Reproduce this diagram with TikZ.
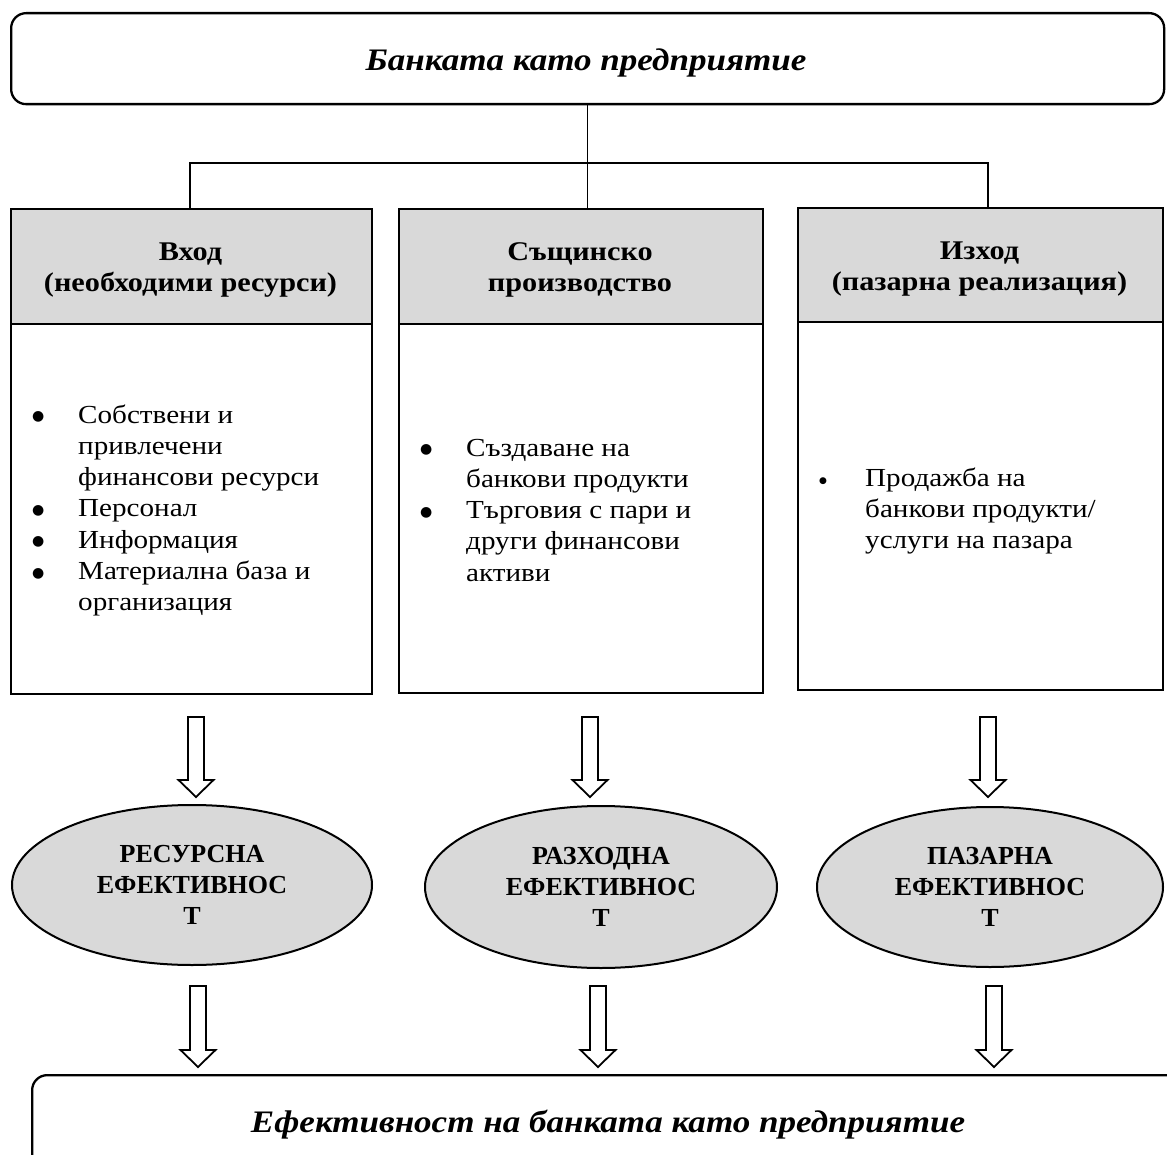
\documentclass[tikz,border=0pt]{standalone}
\usepackage{fontspec}
\setmainfont{Liberation Serif}[FakeStretch=1.12]
\newfontfamily\ovalfont{Liberation Serif}
\newfontfamily\symfont{DejaVu Sans}
\usetikzlibrary{calc,shapes.geometric}
\definecolor{boxgray}{HTML}{D9D9D9}
\tikzset{
  box/.style={draw, line width=2.3pt, inner sep=0pt, anchor=north west},
  hdr/.style={box, fill=boxgray},
  oval/.style={ellipse, draw, line width=2pt, fill=boxgray, inner sep=0pt,
    font=\ovalfont\fontsize{26}{31}\selectfont\bfseries, align=center},
  conn/.style={line width=1.3pt},
  barrow/.style={draw, line width=1.8pt, fill=white, line join=miter},
  txt/.style={inner sep=0pt, anchor=base west},
  htxt/.style={inner sep=0pt, anchor=base},
  ttlfont/.style={font=\fontsize{31.3}{38}\selectfont\bfseries\itshape},
}
\newcommand{\blockarrow}[2]{%
  \draw[barrow] ($(#1)+(-8,0)$) -- ($(#2)+(-8,-17)$) -- ($(#2)+(-17.5,-17)$) -- (#2)
    -- ($(#2)+(17.5,-17)$) -- ($(#2)+(8,-17)$) -- ($(#1)+(8,0)$) -- cycle;}
\newcommand{\bodyfont}{\fontsize{26}{31.3}\selectfont}
\newcommand{\hdrfont}{\fontsize{27}{31}\selectfont\bfseries}
\newcommand{\bl}{\makebox[46pt][l]{\raisebox{2.5pt}{\symfont\fontsize{14}{14}\selectfont ●}}}
\newcommand{\nb}{\hspace*{46pt}}
\begin{document}
\begin{tikzpicture}[x=1pt,y=-1pt]
\useasboundingbox (0,0) rectangle (1167,1155);
% top box
\node[box, rounded corners=15pt, minimum width=1153pt, minimum height=91pt] (top) at (10,12) {};
\node[htxt, ttlfont] (ttl) at (586,71) {Банката като предприятие};
% headers
\node[hdr, minimum width=361pt, minimum height=115pt] (h1) at (10,208) {};
\node[hdr, minimum width=364pt, minimum height=115pt] (h2) at (398,208) {};
\node[hdr, minimum width=365pt, minimum height=114pt] (h3) at (797,207) {};
% bodies
\node[box, minimum width=361pt, minimum height=370pt] (b1) at (10,323) {};
\node[box, minimum width=364pt, minimum height=369pt] (b2) at (398,323) {};
\node[box, minimum width=365pt, minimum height=368pt] (b3) at (797,321) {};
% header texts
\node[htxt] (t1) at (190.5,261) {\parbox[t]{355pt}{\centering\hdrfont Вход\\(необходими ресурси)}};
\node[htxt] (t2) at (580,261) {\parbox[t]{355pt}{\centering\hdrfont Същинско\\производство}};
\node[htxt] (t3) at (979.5,260) {\parbox[t]{355pt}{\centering\hdrfont Изход\\(пазарна реализация)}};
% body texts
\node[txt] (l1) at (32,423) {\parbox[t]{330pt}{\raggedright\bodyfont
  \bl Собствени и\\ \nb привлечени\\ \nb финансови ресурси\\ \bl Персонал\\ \bl Информация\\
  \bl Материална база и\\ \nb организация}};
\node[txt] (l2) at (420,456) {\parbox[t]{330pt}{\raggedright\bodyfont
  \bl Създаване на\\ \nb банкови продукти\\ \bl Търговия с пари и\\ \nb други финансови\\ \nb активи}};
\node[txt] (l3) at (819,486) {\parbox[t]{330pt}{\raggedright\bodyfont
  \makebox[46pt][l]{\raisebox{3pt}{\symfont\fontsize{9}{9}\selectfont ●}}Продажба на\\ \nb банкови продукти/\\ \nb услуги на пазара}};
% connectors
\coordinate (hl) at (190,163);
\coordinate (hr) at (988,163);
\draw[conn] (top.south) -- (top.south |- h2.north);
\draw[conn] (hl |- h1.north) -- (hl) -- (hr) -- (hr |- h3.north);
% ellipses
\node[oval, minimum width=360pt, minimum height=160pt] (e1) at (192,885) {РЕСУРСНА\\ЕФЕКТИВНОС\\Т};
\node[oval, minimum width=352pt, minimum height=162pt] (e2) at (601,887) {РАЗХОДНА\\ЕФЕКТИВНОС\\Т};
\node[oval, minimum width=346pt, minimum height=160pt] (e3) at (990,887) {ПАЗАРНА\\ЕФЕКТИВНОС\\Т};
% bottom box
\node[box, rounded corners=15pt, minimum width=1200pt, minimum height=200pt] (bot) at (31,1074) {};
\node[htxt, ttlfont] (btl) at (608,1132) {Ефективност на банката като предприятие};
% block arrows
\coordinate (a1t) at (196,717); \coordinate (a1p) at (196,797);
\coordinate (a2t) at (590,717); \coordinate (a2p) at (590,797);
\coordinate (a3t) at (988,717); \coordinate (a3p) at (988,797);
\coordinate (c1t) at (198,986); \coordinate (c1p) at (198,1067);
\coordinate (c2t) at (598,986); \coordinate (c2p) at (598,1067);
\coordinate (c3t) at (994,986); \coordinate (c3p) at (994,1067);
\blockarrow{a1t}{a1p}
\blockarrow{a2t}{a2p}
\blockarrow{a3t}{a3p}
\blockarrow{c1t}{c1p}
\blockarrow{c2t}{c2p}
\blockarrow{c3t}{c3p}
\end{tikzpicture}
\end{document}
